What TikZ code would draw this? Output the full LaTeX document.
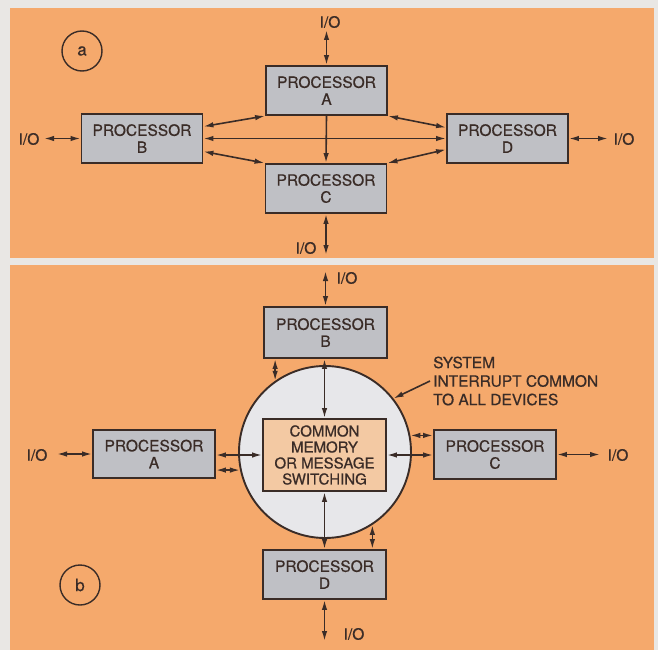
\documentclass[tikz,border=0pt]{standalone}
\usepackage{fontspec}
\setmainfont{TeX Gyre Heros}[FakeBold=0.6]
\usetikzlibrary{arrows.meta}
\definecolor{pagebg}{HTML}{E9E7E4}
\definecolor{panel}{HTML}{F5A96C}
\definecolor{boxgray}{HTML}{BFC0C5}
\definecolor{memfill}{HTML}{F3C9A3}
\definecolor{circfill}{HTML}{E7E7EA}
\definecolor{ink}{HTML}{3A2C27}
\begin{document}
\begin{tikzpicture}[x=1pt,y=-1pt,
  >={Latex[length=10pt,width=5.5pt]},
  proc/.style={draw=ink, line width=1.9pt, fill=boxgray, minimum width=121pt,
    minimum height=49pt, inner sep=0pt, align=center,
    font=\fontsize{15.5}{17}\selectfont, text=ink},
  link/.style={draw=ink, line width=1.6pt, <->},
  onelink/.style={draw=ink, line width=1.6pt, ->},
  iolabel/.style={font=\fontsize{15.5}{17}\selectfont, text=ink, inner sep=0pt},
  tag/.style={circle, draw=ink, line width=1.4pt, minimum size=40pt, inner sep=0pt,
    font=\fontsize{17}{18}\selectfont, text=ink}]
\useasboundingbox (0,0) rectangle (658,650);
\fill[pagebg] (0,0) rectangle (658,650);
\fill[panel] (10,8) rectangle (654,258);
\fill[panel] (10,265) rectangle (654,650);

% ---------- panel a ----------
\node[tag] (taga) at (82,51) {a};
\node[proc] (A) at (326.5,90.5) {PROCESSOR\\A};
\node[proc] (B) at (142,138.5) {PROCESSOR\\B};
\node[proc] (C) at (326,188.5) {PROCESSOR\\C};
\node[proc] (D) at (507.5,138.5) {PROCESSOR\\D};

\draw[link] ([yshift=12pt]B.east) -- (A.south west);
\draw[link] (B.east) -- (D.west);
\draw[link] ([yshift=-13pt]B.east) -- (C.north west);
\draw[link] (A.south east) -- ([yshift=11pt]D.west);
\draw[link] (C.north east) -- ([yshift=-11pt]D.west);
\draw[onelink] (A.south) -- (C.north);

\coordinate (ioAa) at (326.5,30);
\coordinate (ioBa) at (44,138.5);
\coordinate (ioCa) at (326,255);
\coordinate (ioDa) at (608,138.5);
\draw[link] (A.north) -- (ioAa);
\draw[link] (B.west) -- (ioBa);
\draw[link] (C.south) -- (ioCa);
\draw[link] (D.east) -- (ioDa);
\node[iolabel] (lAa) at (330,22) {I/O};
\node[iolabel] (lBa) at (29,139) {I/O};
\node[iolabel] (lCa) at (306,248) {I/O};
\node[iolabel] (lDa) at (624,139) {I/O};

% ---------- panel b ----------
\node[tag] (tagb) at (80,585) {b};
\node[circle, draw=ink, line width=1.9pt, fill=circfill, minimum size=172pt,
  inner sep=0pt] (circ) at (325,452) {};
\node[proc, fill=memfill, minimum width=123pt, minimum height=72pt,
  font=\fontsize{15}{16}\selectfont] (Mem) at (324.5,455)
  {COMMON\\MEMORY\\OR MESSAGE\\SWITCHING};
\node[proc, minimum width=123pt, minimum height=51pt] (Bb) at (325.5,332.5) {PROCESSOR\\B};
\node[proc, minimum width=122pt, minimum height=48pt] (Ab) at (154,454) {PROCESSOR\\A};
\node[proc, minimum width=122pt, minimum height=49pt] (Cb) at (495,454.5) {PROCESSOR\\C};
\node[proc, minimum width=123pt, minimum height=49pt] (Db) at (324.5,574.5) {PROCESSOR\\D};

\draw[link] (Mem.north |- Bb.south) -- (Mem.north);
\draw[link] (Mem.south) -- (Mem.south |- Db.north);
\draw[link] (Mem.west -| Ab.east) -- (Mem.west);
\draw[link] (Mem.east) -- (Mem.east -| Cb.west);
\draw[link] (circ.125.5 |- Bb.south) -- (circ.125.5);
\draw[link] (Ab.east |- circ.192.7) -- (circ.192.7);
\draw[link] (circ.11.4) -- (Cb.west |- circ.11.4);
\draw[link] (circ.303.9) -- (circ.303.9 |- Db.north);

\coordinate (ioBb) at (325.5,271);
\coordinate (ioAb) at (57,454);
\coordinate (ioCb) at (600,454.5);
\coordinate (ioDb) at (324.5,641);
\draw[link] (Bb.north) -- (ioBb);
\draw[link] (Ab.west) -- (ioAb);
\draw[link] (Cb.east) -- (ioCb);
\draw[link] (Db.south) -- (ioDb);
\node[iolabel] (lBb) at (347,278) {I/O};
\node[iolabel] (lAb) at (37,455) {I/O};
\node[iolabel] (lCb) at (618,455) {I/O};
\node[iolabel] (lDb) at (354,634) {I/O};

\node[anchor=west, align=left, inner sep=1pt, text=ink,
  font=\fontsize{15.5}{18.5}\selectfont] (sys) at (432,381)
  {SYSTEM\\INTERRUPT COMMON\\TO ALL DEVICES};
\draw[onelink] ([xshift=-2pt]sys.west) -- (circ.38.5);
\end{tikzpicture}
\end{document}
